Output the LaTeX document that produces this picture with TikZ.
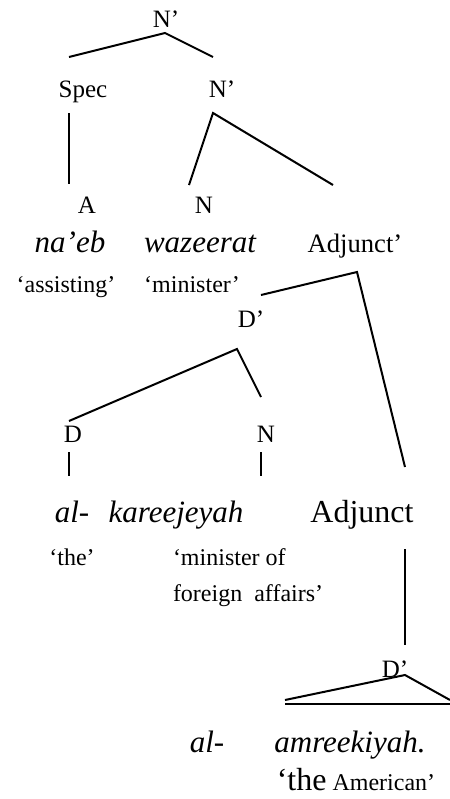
\documentclass[tikz,border=0pt]{standalone}
\usepackage{fontspec}
\setmainfont{Liberation Serif}
\tikzset{
  cat/.style={font=\fontsize{12.5}{14}\selectfont},
  word/.style={font=\fontsize{15.5}{18}\selectfont\itshape},
  gloss/.style={font=\fontsize{12}{14}\selectfont},
}
\begin{document}
\begin{tikzpicture}[x=0.5pt,y=-0.5pt,line width=1pt,
    every node/.style={inner sep=0pt,anchor=base}]
  \useasboundingbox (0,0) rectangle (450,799);
  \draw
    (166,27) node[cat] (nbar0){N’}
    (83,97) node[cat] (spec){Spec}
    (222,97) node[cat] (nbar1){N’}
    (87,213) node[cat] (a){A}
    (204,213) node[cat] (n0){N}
    (70,252) node[word] (naeb){na’eb}
    (200,252) node[word] (wazeerat){wazeerat}
    (355,252) node[font=\fontsize{13.3}{16}\selectfont] (adjbar){Adjunct’}
    (66,292) node[gloss] (gl0){‘assisting’}
    (192,292) node[gloss] (gl1){‘minister’}
    (251,327) node[cat] (dbar0){D’}
    (73,442) node[cat] (d){D}
    (266,442) node[cat] (n1){N}
    (72,522) node[word] (al0){al-}
    (176,522) node[word] (kareejeyah){kareejeyah}
    (362,522) node[font=\fontsize{16}{18}\selectfont] (adj){Adjunct}
    (72,565) node[gloss] (gl2){‘the’}
    (172,565) node[gloss,anchor=base west] (gl3){‘minister of}
    (172,601) node[gloss,anchor=base west] (gl4){foreign\ \ affairs’}
    (395,677) node[cat] (dbar1){D’}
    (207,752) node[word] (al1){al-}
    (350,752) node[word] (amreekiyah){amreekiyah.}
    (356,790) node[gloss] (gl5){{\fontsize{16}{18}\selectfont‘the} American’};
  % branch ends
  \coordinate (r0) at (165,33);
  \coordinate (r0l) at (69,57);
  \coordinate (r0r) at (213,57);
  \coordinate (s0) at (69,113);
  \coordinate (s1) at (69,184);
  \coordinate (r1) at (213,113);
  \coordinate (r1l) at (189,185);
  \coordinate (r1r) at (333,185);
  \coordinate (r2) at (357,272);
  \coordinate (r2l) at (261,295);
  \coordinate (r2r) at (405,467);
  \coordinate (r3) at (237,349);
  \coordinate (r3l) at (69,421);
  \coordinate (r3r) at (261,397);
  \coordinate (d0) at (69,452);
  \coordinate (d1) at (69,476);
  \coordinate (n2) at (261,452);
  \coordinate (n3) at (261,476);
  \coordinate (j0) at (405,549);
  \coordinate (j1) at (405,645);
  \coordinate (r4) at (405,675);
  \coordinate (r4l) at (285,700);
  \coordinate (r4r) at (450,700);
  \coordinate (b0) at (285,704);
  \coordinate (b1) at (450,704);
  \begin{scope}[-]
    \draw (r0l) to (r0) to (r0r);
    \draw (s0) to (s1);
    \draw (r1l) to (r1) to (r1r);
    \draw (r2l) to (r2) to (r2r);
    \draw (r3l) to (r3) to (r3r);
    \draw (d0) to (d1);
    \draw (n2) to (n3);
    \draw (j0) to (j1);
    \draw (r4l) to (r4) to (r4r);
    \draw (b0) to (b1);
  \end{scope}
\end{tikzpicture}
\end{document}
